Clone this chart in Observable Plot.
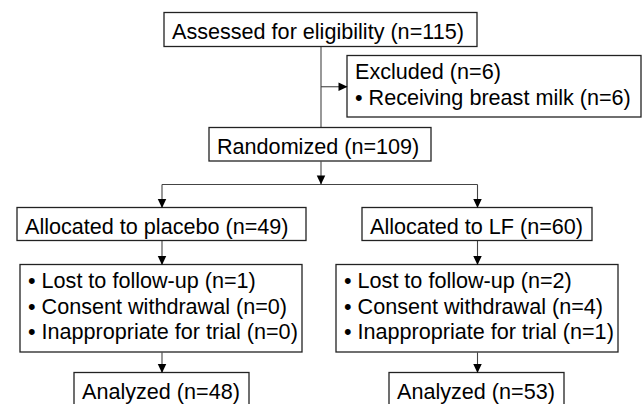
<!DOCTYPE html>
<html><head><meta charset="utf-8">
<script src="https://cdn.jsdelivr.net/npm/d3@7"></script>
<script src="https://cdn.jsdelivr.net/npm/@observablehq/plot@0.6"></script>
<style>html,body{margin:0;padding:0;background:#fff;overflow:hidden;}</style>
</head><body><div id="chart"></div>
<script>
// ---- data (counts and labels) ----
const assessedN = 115;
const excludedN = 6;
const exclusionReasons = ["Receiving breast milk"];
const exclusionCounts = [6];
const randomizedN = 109;
const arms = ["placebo", "LF"];
const allocatedN = [49, 60];
const lossReasons = ["Lost to follow-up", "Consent withdrawal", "Inappropriate for trial"];
const lostN = [1, 2];
const withdrawnN = [0, 4];
const inappropriateN = [0, 1];
const analyzedN = [48, 53];

// ---- layout (pixel geometry of the diagram boxes) ----
const layout = {
  assessed:   {x1: 164, x2: 477, y1: 12.5, y2: 46.5},
  excluded:   {x1: 347, x2: 641, y1: 55.5, y2: 117},
  randomized: {x1: 209, x2: 431, y1: 127.5, y2: 161},
  alloc0:     {x1: 17,  x2: 306, y1: 207.5, y2: 240.5},
  alloc1:     {x1: 362, x2: 592, y1: 207.5, y2: 240.5},
  loss0:      {x1: 20,  x2: 302, y1: 264.5, y2: 352},
  loss1:      {x1: 336, x2: 618, y1: 264.5, y2: 352},
  anal0:      {x1: 74,  x2: 249, y1: 372.5, y2: 412},
  anal1:      {x1: 389, x2: 564, y1: 372.5, y2: 412}
};
const junctionY = 184;
const pad = 7.5;

// ---- build box texts ----
const n = v => `(n=${v})`;
const boxLines = {
  assessed: [`Assessed for eligibility ${n(assessedN)}`],
  excluded: [`Excluded ${n(excludedN)}`, ...exclusionReasons.map((r, i) => `• ${r} ${n(exclusionCounts[i])}`)],
  randomized: [`Randomized ${n(randomizedN)}`]
};
arms.forEach((a, i) => {
  boxLines["alloc" + i] = [`Allocated to ${a} ${n(allocatedN[i])}`];
  const vals = [lostN[i], withdrawnN[i], inappropriateN[i]];
  boxLines["loss" + i] = lossReasons.map((r, k) => `• ${r} ${n(vals[k])}`);
  boxLines["anal" + i] = [`Analyzed ${n(analyzedN[i])}`];
});

const boxes = Object.entries(layout).map(([id, b]) => ({id, ...b}));
const texts = [];
for (const [id, lines] of Object.entries(boxLines)) {
  const b = layout[id];
  const single = lines.length === 1;
  lines.forEach((t, k) => texts.push({
    t, x: b.x1 + pad,
    y: single ? b.y1 + 25.5 : b.y1 + 23 + k * 25.7
  }));
}

// ---- connectors ----
const cx = b => (b.x1 + b.x2) / 2;
const cy = b => (b.y1 + b.y2) / 2;
const L = layout;
const links = [];
const heads = [];
function edge(x1, y1, x2, y2, head) {
  links.push({x1, y1, x2, y2});
  if (head) heads.push({x: x2, y: y2, rotate: x2 > x1 ? 90 : y2 > y1 ? 180 : 0});
}
const mainX = cx(L.assessed);
edge(mainX, L.assessed.y2, mainX, L.randomized.y1, false);
edge(mainX, cy(L.excluded), L.excluded.x1, cy(L.excluded), true);
edge(mainX, L.randomized.y2, mainX, junctionY, true);
edge(cx(L.alloc0), junctionY, cx(L.alloc1), junctionY, false);
[0, 1].forEach(i => {
  const ax = cx(L["alloc" + i]);
  edge(ax, junctionY, ax, L["alloc" + i].y1, true);
  edge(ax, L["alloc" + i].y2, ax, L["loss" + i].y1, true);
  edge(ax, L["loss" + i].y2, ax, L["anal" + i].y1, true);
});

// arrowhead symbol with its tip at the origin, pointing up
const arrowHead = {
  draw(context) {
    const w = 8.5, h = 9;
    context.moveTo(0, 0);
    context.lineTo(-w / 2, h);
    context.lineTo(w / 2, h);
    context.closePath();
  }
};

const font = "'Liberation Sans', Arial, Helvetica, sans-serif";

const chart = Plot.plot({
  width: 644,
  height: 404,
  margin: 0,
  x: {domain: [0, 644], range: [0, 644], axis: null},
  y: {domain: [0, 404], range: [0, 404], axis: null},
  style: {background: "#fff", overflow: "hidden"},
  marks: [
    Plot.link(links, {x1: "x1", y1: "y1", x2: "x2", y2: "y2", stroke: "#444", strokeWidth: 1.1}),
    Plot.rect(boxes, {x1: "x1", x2: "x2", y1: "y1", y2: "y2", fill: "#fff", stroke: "#222", strokeWidth: 1.3}),
    Plot.dot(heads, {x: "x", y: "y", rotate: "rotate", symbol: arrowHead, r: 3, fill: "#000", stroke: "none"}),
    Plot.text(texts, {x: "x", y: "y", text: "t", textAnchor: "start", lineAnchor: "bottom",
      fontSize: 21.6, fontFamily: font, fill: "#000"})
  ]
});
document.getElementById("chart").appendChild(chart);
</script></body></html>
